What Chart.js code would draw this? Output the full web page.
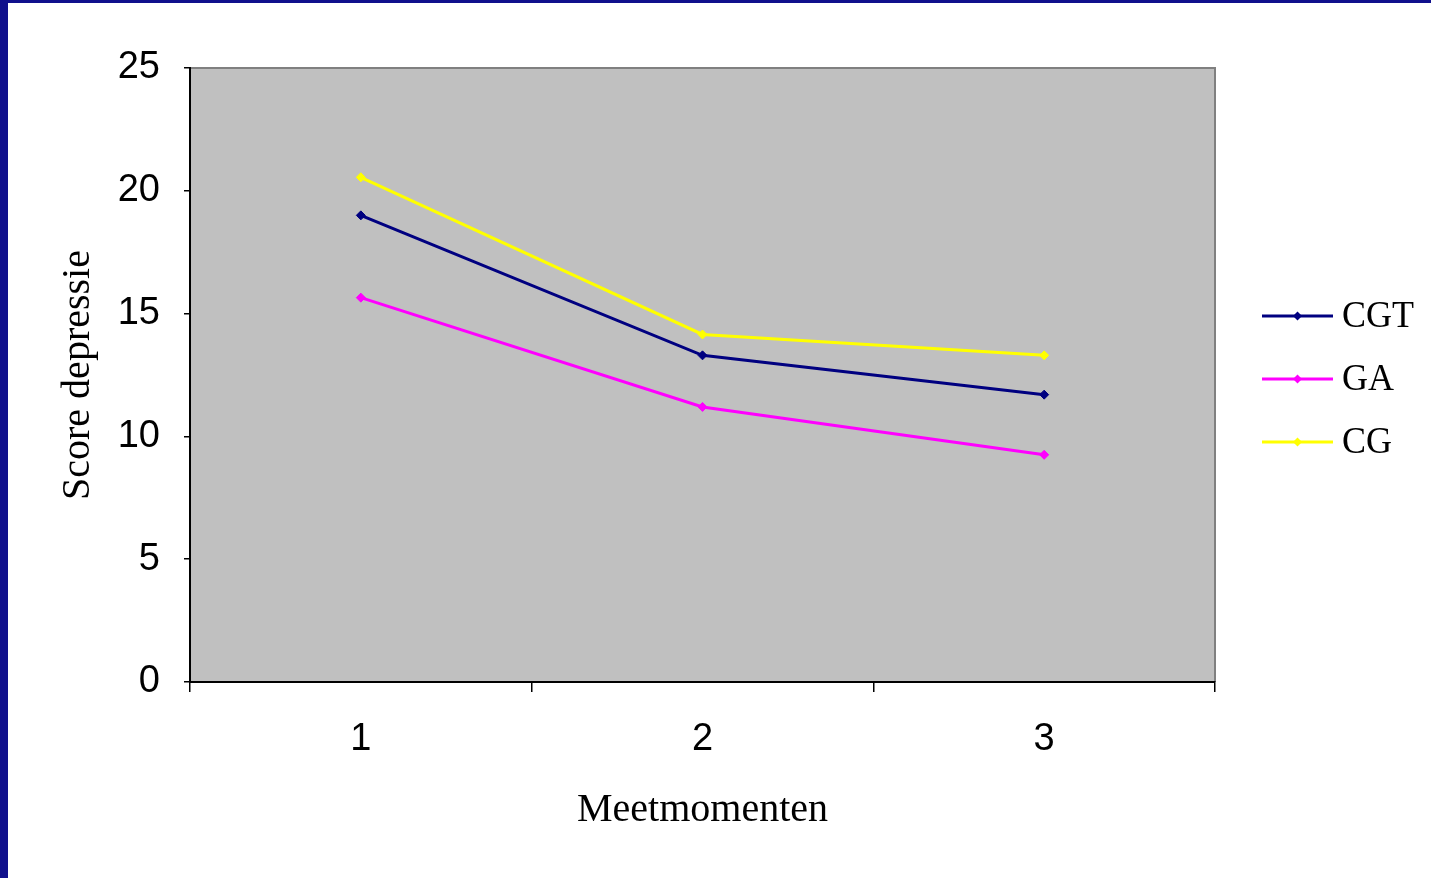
<!DOCTYPE html>
<html>
<head>
<meta charset="utf-8">
<script src="https://cdn.jsdelivr.net/npm/chart.js@4"></script>
<style>
html,body{margin:0;padding:0;background:#fff;overflow:hidden;}
#wrap{position:absolute;left:0;top:0;width:1423px;height:875px;border-left:8px solid #10108C;border-top:3px solid #10108C;background:#fff;}
canvas{display:block;}
</style>
</head>
<body>
<div id="wrap"><canvas id="c" width="1423" height="875"></canvas></div>
<script>
const categories = ['1', '2', '3'];
const seriesNames = ['CGT', 'GA', 'CG'];
const cgtValues = [19.0, 13.3, 11.7];
const gaValues = [15.65, 11.2, 9.25];
const cgValues = [20.55, 14.15, 13.3];
const yTicks = [0, 5, 10, 15, 20, 25];
const seriesColors = ['#000080', '#FF00FF', '#FFFF00'];

const plotBg = {
  id: 'plotBg',
  beforeDraw(chart) {
    const {ctx, chartArea: a} = chart;
    ctx.save();
    ctx.fillStyle = '#C0C0C0';
    ctx.fillRect(a.left, a.top, a.right - a.left, a.bottom - a.top);
    ctx.strokeStyle = '#808080';
    ctx.lineWidth = 2;
    ctx.beginPath();
    ctx.moveTo(a.left, a.top);
    ctx.lineTo(a.right, a.top);
    ctx.lineTo(a.right, a.bottom);
    ctx.stroke();
    ctx.restore();
  }
};

const sideLegend = {
  id: 'sideLegend',
  afterDraw(chart) {
    const {ctx} = chart;
    const x0 = 1254, x1 = 1325, tx = 1334;
    const ys = [313, 376, 439];
    ctx.save();
    chart.data.datasets.forEach((ds, i) => {
      const y = ys[i];
      ctx.strokeStyle = ds.borderColor;
      ctx.lineWidth = 3;
      ctx.beginPath();
      ctx.moveTo(x0, y);
      ctx.lineTo(x1, y);
      ctx.stroke();
      const cx = (x0 + x1) / 2, r = 4.5;
      ctx.fillStyle = ds.borderColor;
      ctx.beginPath();
      ctx.moveTo(cx, y - r);
      ctx.lineTo(cx + r, y);
      ctx.lineTo(cx, y + r);
      ctx.lineTo(cx - r, y);
      ctx.closePath();
      ctx.fill();
      ctx.fillStyle = '#000';
      ctx.font = '36px "Liberation Serif"';
      ctx.textAlign = 'left';
      ctx.textBaseline = 'middle';
      ctx.save();
      ctx.translate(tx, y + 1);
      ctx.scale(1, 1.06);
      ctx.fillText(ds.label, 0, 0);
      ctx.restore();
    });
    ctx.restore();
  }
};

const mk = (i, data) => ({
  label: seriesNames[i],
  data: data,
  borderColor: seriesColors[i],
  backgroundColor: seriesColors[i],
  borderWidth: 3,
  pointStyle: 'rectRot',
  pointRadius: 4.5,
  pointBorderWidth: 1,
  pointHoverRadius: 4.5,
  tension: 0,
  fill: false
});

new Chart(document.getElementById('c'), {
  type: 'line',
  data: {
    labels: categories,
    datasets: [mk(0, cgtValues), mk(1, gaValues), mk(2, cgValues)]
  },
  plugins: [plotBg, sideLegend],
  options: {
    responsive: false,
    animation: false,
    devicePixelRatio: 1,
    layout: {padding: {top: 65, right: 216, left: 0, bottom: 0}},
    plugins: {legend: {display: false}, tooltip: {enabled: false}},
    scales: {
      x: {
        type: 'category',
        offset: true,
        grid: {offset: true, drawOnChartArea: false, drawTicks: true, tickLength: 10, color: '#000', lineWidth: 1.5},
        border: {color: '#000', width: 2},
        ticks: {color: '#000', font: {family: 'Liberation Sans', size: 38}, padding: 25, maxRotation: 0},
        title: {display: true, text: 'Meetmomenten', color: '#000', font: {family: 'Liberation Serif', size: 40}, padding: {top: 0, bottom: 44}},
        afterFit(s) { s.height = 196; }
      },
      y: {
        min: 0, max: 25,
        afterBuildTicks(s) { s.ticks = yTicks.map(v => ({value: v})); },
        grid: {drawOnChartArea: false, drawTicks: true, tickLength: 6, color: '#000', lineWidth: 1.5},
        border: {color: '#000', width: 2},
        ticks: {color: '#000', font: {family: 'Liberation Sans', size: 38}, padding: 24},
        title: {display: true, text: 'Score depressie', color: '#000', font: {family: 'Liberation Serif', size: 40}, padding: {top: 46, bottom: 0}},
        afterFit(s) { s.width = 182; }
      }
    }
  }
});
</script>
</body>
</html>
